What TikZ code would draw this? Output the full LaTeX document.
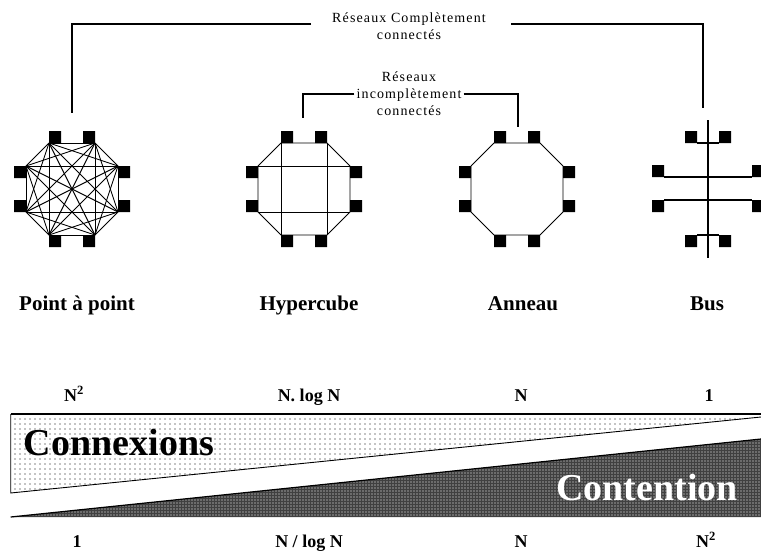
\documentclass[tikz,border=0pt]{standalone}
\usepackage{fontspec}
\setmainfont{Liberation Serif}
\usepackage{tikz}
\usetikzlibrary{positioning,calc,patterns.meta}
\tikzstyle{term} = [fill=black]
\tikzstyle{link} = [line width=0.9pt]
\tikzstyle{bus} = [line width=1.3pt]
\tikzstyle{brace} = [line width=1.1pt]
\tikzstyle{title} = [anchor=base,font=\bfseries\fontsize{21}{24}\selectfont]
\tikzstyle{cost} = [anchor=base,font=\bfseries\fontsize{18}{20}\selectfont]
\tikzstyle{big} = [font=\bfseries\fontsize{38}{40}\selectfont]
\tikzstyle{note} = [align=center,inner sep=2pt,font={\fontsize{14}{17}\selectfont\addfontfeatures{LetterSpace=8}}]
\tikzstyle{light} = [pattern={Dots[distance=5pt,radius=0.7pt]},pattern color=black]
\tikzstyle{dark} = [fill=black!75,postaction={pattern={Dots[distance=3pt,radius=0.6pt]},pattern color=white}]

% corners of one network, with a terminal on each
\newcommand{\netocto}[3]{%
  \coordinate (#1-1) at (#2-23,#3-46);
  \coordinate (#1-2) at (#2+23,#3-46);
  \coordinate (#1-3) at (#2+46,#3-23);
  \coordinate (#1-4) at (#2+46,#3+23);
  \coordinate (#1-5) at (#2+23,#3+46);
  \coordinate (#1-6) at (#2-23,#3+46);
  \coordinate (#1-7) at (#2-46,#3+23);
  \coordinate (#1-8) at (#2-46,#3-23);
  \fill[term] (#1-1) rectangle ++(12,-12) (#1-2) rectangle ++(-12,-12)
              (#1-3) rectangle ++(12,12) (#1-4) rectangle ++(12,-12)
              (#1-5) rectangle ++(-12,12) (#1-6) rectangle ++(12,12)
              (#1-7) rectangle ++(-12,-12) (#1-8) rectangle ++(-12,12);
}

\begin{document}
\begin{tikzpicture}[x=1pt,y=-1pt]
  \useasboundingbox (0,0) rectangle (761,554);

  % point a point
  \netocto{pp}{72}{189}
  \foreach \i in {1,...,7}{
    \pgfmathtruncatemacro{\nxt}{\i+1}
    \foreach \j in {\nxt,...,8}
      \draw[link] (pp-\i) -- (pp-\j);
  }

  % hypercube
  \netocto{hc}{304}{189}
  \draw[link] (hc-1) -- (hc-2) -- (hc-3) -- (hc-4) -- (hc-5) -- (hc-6) -- (hc-7) -- (hc-8) -- cycle;
  \path[link]
    (hc-1) edge (hc-6)
    (hc-2) edge (hc-5)
    (hc-8) edge (hc-3)
    (hc-7) edge (hc-4);

  % anneau
  \netocto{an}{517}{189}
  \draw[link] (an-1) -- (an-2) -- (an-3) -- (an-4) -- (an-5) -- (an-6) -- (an-7) -- (an-8) -- cycle;

  % bus
  \coordinate (b-1) at (697,143);
  \coordinate (b-2) at (719,143);
  \coordinate (b-3) at (752,177);
  \coordinate (b-4) at (752,200);
  \coordinate (b-5) at (719,235);
  \coordinate (b-6) at (697,235);
  \coordinate (b-7) at (664,200);
  \coordinate (b-8) at (664,177);
  \coordinate (b-top) at (708,120);
  \coordinate (b-bot) at (708,258);
  \fill[term] (b-1) rectangle ++(-12,-12) (b-2) rectangle ++(12,-12)
              (b-3) rectangle ++(12,-12) (b-4) rectangle ++(12,12)
              (b-5) rectangle ++(12,12) (b-6) rectangle ++(-12,12)
              (b-7) rectangle ++(-12,12) (b-8) rectangle ++(-12,-12);
  \draw[bus] (b-top) -- (b-bot);
  \path[bus]
    (b-1) edge (b-2)
    (b-8) edge (b-3)
    (b-7) edge (b-4)
    (b-6) edge (b-5);

  % reseaux
  \node[note] (full) at (409,26) {Réseaux Complètement\\connectés};
  \node[note] (part) at (409,94) {Réseaux\\incomplètement\\connectés};
  \coordinate (full-l) at (311,24);
  \coordinate (full-r) at (511,24);
  \coordinate (pp-up) at (72,113);
  \coordinate (b-up) at (703,108);
  \coordinate (hc-up) at (303,118);
  \coordinate (an-up) at (518,127);
  \draw[brace] (full-l) -| (pp-up);
  \draw[brace] (full-r) -| (b-up);
  \draw[brace] (part.west) -| (hc-up);
  \draw[brace] (part.east) -| (an-up);

  \node[title] (t-pp) at (77,310) {Point à point};
  \node[title] (t-hc) at (309,310) {Hypercube};
  \node[title] (t-an) at (523,310) {Anneau};
  \node[title] (t-b) at (707,310) {Bus};

  \node[cost] (c-pp) at (74,401) {N\textsuperscript{2}};
  \node[cost] (c-hc) at (309,401) {N. log N};
  \node[cost] (c-an) at (521,401) {N};
  \node[cost] (c-b) at (709,401) {1};

  % connexions / contention
  \path[light] (10.7,414) -- (761,414) -- (761,417) -- (10.7,493) -- cycle;
  \draw[line width=1.8pt] (10.7,414) -- (761,414);
  \draw[line width=0.9pt] (10.7,414) -- (10.7,493) -- (761,417);
  \path[dark] (10.7,517) -- (761,517) -- (761,439) -- cycle;
  \draw[line width=1.2pt] (10.7,517) -- (761,439);
  \node[big] (conx) at (119,442) {Connexions};
  \node[big,white] (cont) at (647,487) {Contention};

  \node[cost] (k-pp) at (77,547) {1};
  \node[cost] (k-hc) at (309,547) {N / log N};
  \node[cost] (k-an) at (521,547) {N};
  \node[cost] (k-b) at (706,547) {N\textsuperscript{2}};
\end{tikzpicture}
\end{document}
